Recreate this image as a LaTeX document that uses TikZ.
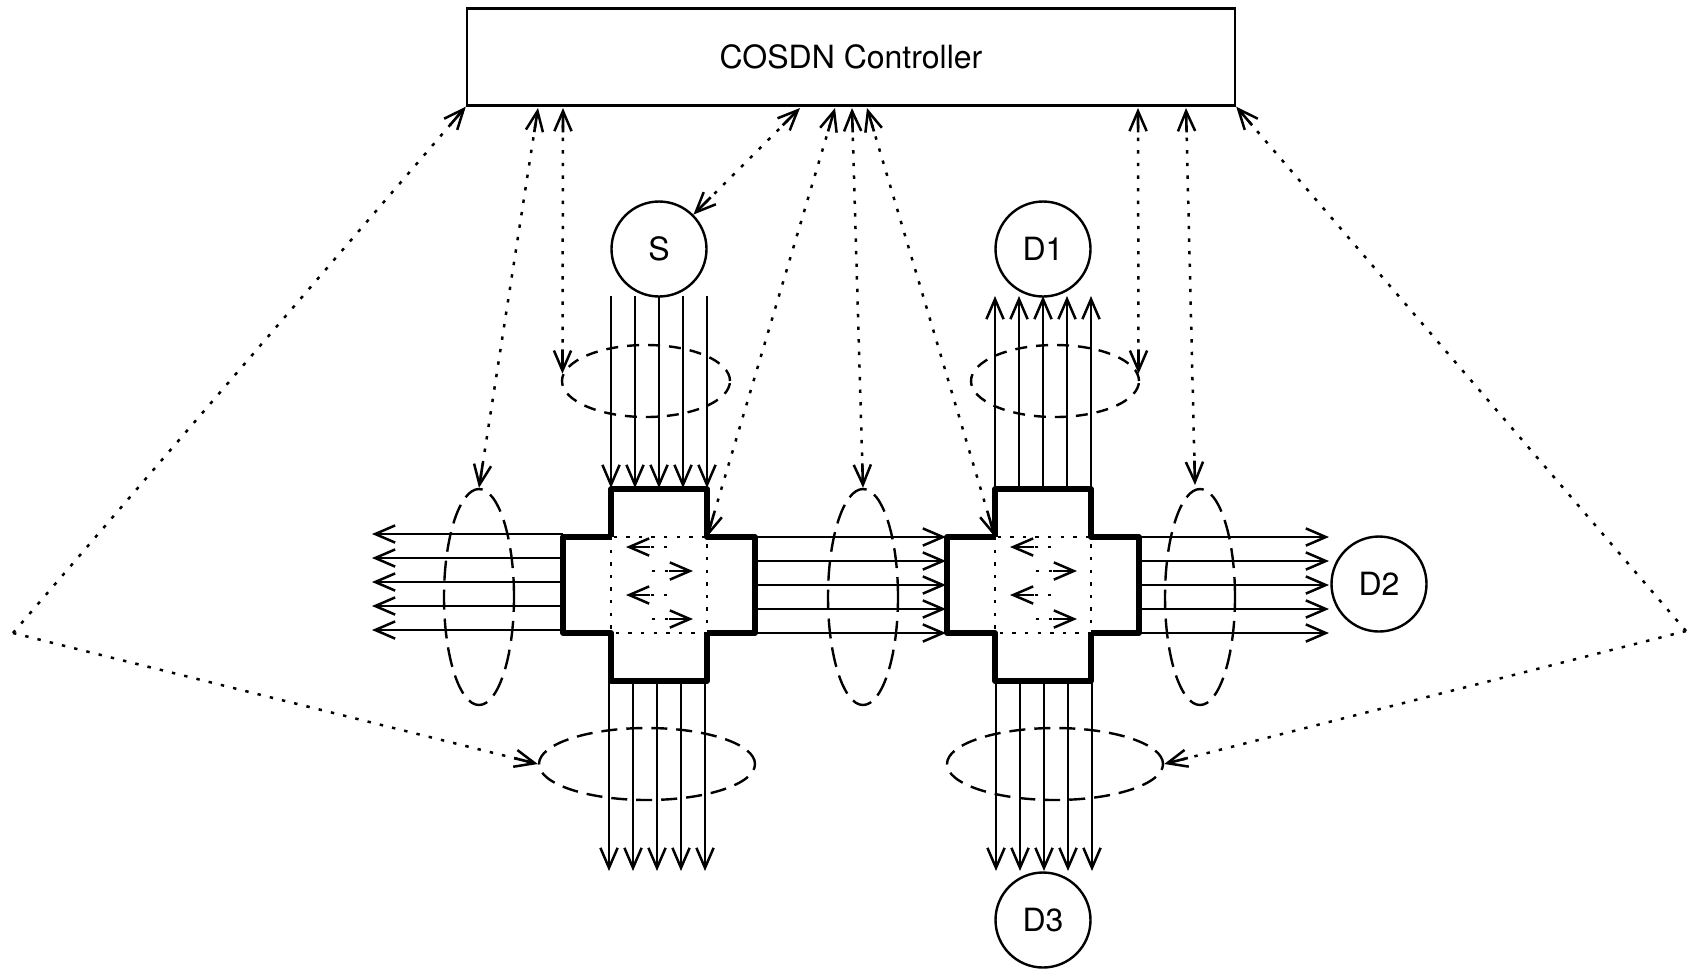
\documentclass[tikz,border=0pt]{standalone}
\usepackage{fontspec}
\setmainfont{TeX Gyre Heros}
\usetikzlibrary{arrows.meta, shapes}

\tikzset{
	every node/.style={font=\fontsize{16}{18}\selectfont},
	>={Straight Barb[length=10pt, width=8.6pt, line width=1.25pt]},
	thin line/.style={line width=1.2pt},
	thick line/.style={line width=2.6pt, line join=round},
	dot line/.style={line width=1.25pt, dash pattern=on 1.7pt off 4.6pt,
		>={Rectangle[length=10pt, width=1.2pt, sep=-10pt] Straight Barb[length=10pt, width=8.6pt, line width=1.25pt]}},
	host/.style={circle, draw, thin line, minimum size=47.5pt, inner sep=0pt},
	group h/.style={ellipse, draw, thin line, dash pattern=on 8pt off 4.5pt, minimum width=108pt, minimum height=36pt, inner sep=0pt},
	group w/.style={group h, dash pattern=on 6pt off 4.5pt, minimum width=84pt},
	group v/.style={group h, dash pattern=on 10pt off 4.5pt, minimum width=35pt, minimum height=108pt},
}

\begin{document}
\begin{tikzpicture}[x=.5pt, y=-.5pt]
		\useasboundingbox (0,0) rectangle (1691,971);

		\node[draw, thin line, minimum width=384pt, minimum height=48.5pt] (ctrl) at (851,57) {COSDN Controller};
		\node[host] (S) at (659,249) {S};
		\node[host] (D1) at (1043,249) {D1};
		\node[host] (D2) at (1379,584) {D2};
		\node[host] (D3) at (1043,920) {D3};

		\node[group w] (g-S) at (646,381) {};
		\node[group w] (g-D1) at (1055,381) {};
		\node[group v] (g-L) at (479,597) {};
		\node[group v] (g-M) at (863,597) {};
		\node[group v] (g-R) at (1200,597) {};
		\node[group h] (g-A) at (647,764) {};
		\node[group h] (g-B) at (1055,764) {};

		\begin{scope}[thin line]
			\foreach \i in {1,...,5} {
				\coordinate (n-\i-S) at (587+24*\i,296);
				\coordinate (n-\i-Sin) at (587+24*\i,488);
				\coordinate (n-\i-D1) at (971+24*\i,296);
				\coordinate (n-\i-D1out) at (971+24*\i,489);
				\coordinate (n-\i-L) at (372,510+24*\i);
				\coordinate (n-\i-Lout) at (563,510+24*\i);
				\coordinate (n-\i-M) at (755,513+24*\i);
				\coordinate (n-\i-Min) at (946,513+24*\i);
				\coordinate (n-\i-R) at (1139,513+24*\i);
				\coordinate (n-\i-Rin) at (1329,513+24*\i);
				\coordinate (n-\i-A) at (585+24*\i,681);
				\coordinate (n-\i-Aout) at (585+24*\i,871);
				\coordinate (n-\i-B) at (972+24*\i,681);
				\coordinate (n-\i-Bout) at (972+24*\i,871);
				\draw[->] (n-\i-S) -- (n-\i-Sin);
				\draw[->] (n-\i-D1out) -- (n-\i-D1);
				\draw[->] (n-\i-Lout) -- (n-\i-L);
				\draw[->] (n-\i-M) -- (n-\i-Min);
				\draw[->] (n-\i-R) -- (n-\i-Rin);
				\draw[->] (n-\i-A) -- (n-\i-Aout);
				\draw[->] (n-\i-B) -- (n-\i-Bout);
			}
		\end{scope}

		% the two crossings
		\draw[dot line] (611,537) rectangle (707,633);
		\draw[dot line] (995,537) rectangle (1091,633);
		\draw[thick line] (611,537) -- (611,489) -- (707,489) -- (707,537) coordinate (A-ne) -- (755,537) -- (755,633) -- (707,633);
		\draw[thick line] (707,633) -- (707,681) -- (611,681) -- (611,633) -- (563,633) -- (563,537) -- (611,537);
		\draw[thick line] (995,537) coordinate (B-nw) -- (995,489) -- (1091,489) -- (1091,537) -- (1139,537) -- (1139,633) -- (1091,633);
		\draw[thick line] (1091,633) -- (1091,681) -- (995,681) -- (995,633) -- (947,633) -- (947,537) -- (995,537);

		\foreach \x/\n in {0/A, 384/B} {
			\coordinate (l-1-\n) at (\x+667,547);
			\coordinate (l-2-\n) at (\x+626,547);
			\coordinate (r-1-\n) at (\x+652,571);
			\coordinate (r-2-\n) at (\x+693,571);
			\coordinate (l-3-\n) at (\x+667,595);
			\coordinate (l-4-\n) at (\x+626,595);
			\coordinate (r-3-\n) at (\x+652,619);
			\coordinate (r-4-\n) at (\x+693,619);
			\draw[dot line, ->] (l-1-\n) -- (l-2-\n);
			\draw[dot line, ->] (r-1-\n) -- (r-2-\n);
			\draw[dot line, ->] (l-3-\n) -- (l-4-\n);
			\draw[dot line, ->] (r-3-\n) -- (r-4-\n);
		}

		% signalling to the controller
		\coordinate (c-1) at (538,108);
		\coordinate (c-2) at (563,108);
		\coordinate (c-3) at (800,108);
		\coordinate (c-4) at (835,108);
		\coordinate (c-5) at (852,108);
		\coordinate (c-6) at (867,108);
		\coordinate (c-7) at (1138,108);
		\coordinate (c-8) at (1186,108);
		\coordinate (t-R) at (1195,485);
		\coordinate (far-L) at (13,633);
		\coordinate (far-R) at (1686,631);

		\draw[dot line, <->] (c-1) -- (g-L.north);
		\draw[dot line, <->] (c-2) -- (g-S.175);
		\draw[dot line, <->] (c-3) -- (S.45);
		\draw[dot line, <->] (c-4) -- (A-ne);
		\draw[dot line, <->] (c-5) -- (g-M.north);
		\draw[dot line, <->] (c-6) -- (B-nw);
		\draw[dot line, <->] (c-7) -- (g-D1.5);
		\draw[dot line, <->] (c-8) -- (t-R);
		\draw[dot line, ->] (far-L) -- (ctrl.south west);
		\draw[dot line, ->] (far-L) -- (g-A.west);
		\draw[dot line, ->] (far-R) -- (ctrl.south east);
		\draw[dot line, ->] (far-R) -- (g-B.east);
	\end{tikzpicture}
\end{document}
